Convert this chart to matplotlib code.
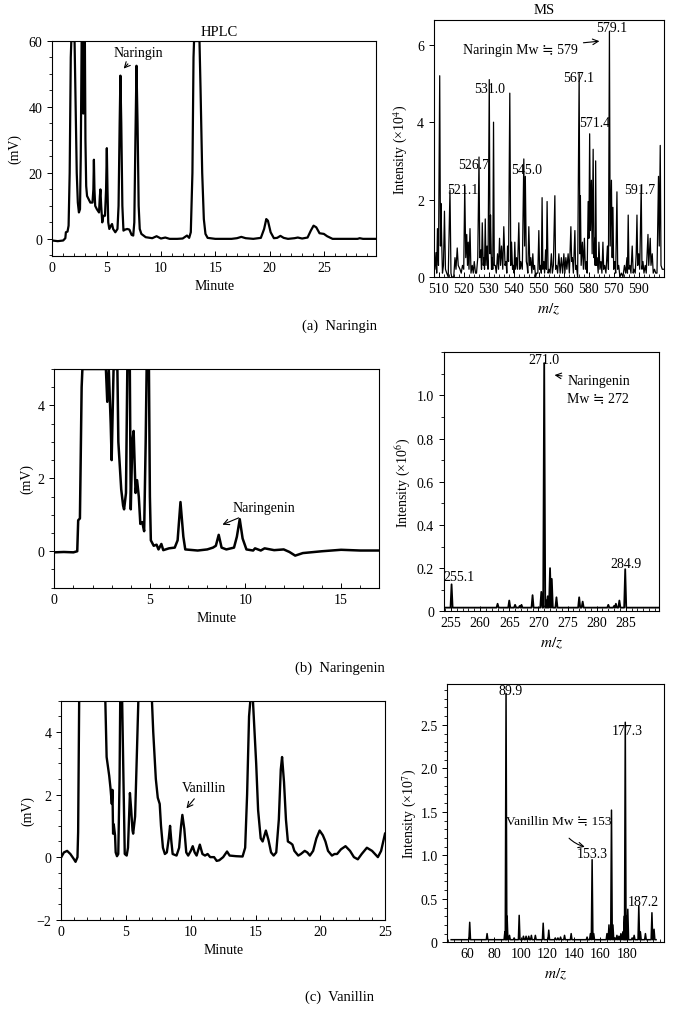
import numpy as np
import matplotlib
matplotlib.use('Agg')
import matplotlib.pyplot as plt
from matplotlib.ticker import MultipleLocator

plt.rcParams['font.family'] = ['Liberation Serif', 'DejaVu Serif', 'DejaVu Sans']
plt.rcParams['mathtext.fontset'] = 'stix'
plt.rcParams['font.size'] = 10

# ---- HPLC traces: (minute, mV) ----
hplc_a_t = [0.0, 0.5, 1.0, 1.2, 1.25, 1.4, 1.5, 1.6, 1.7, 1.75, 2.05, 2.15, 2.25, 2.35, 2.45,
            2.55, 2.62, 2.7, 2.82, 2.85, 2.9, 3.0, 3.05, 3.12, 3.2, 3.35, 3.5, 3.7, 3.78, 3.83,
            3.88, 3.95, 4.1, 4.3, 4.38, 4.43, 4.5, 4.6, 4.7, 4.85, 4.95, 5.02, 5.08, 5.15, 5.25,
            5.4, 5.5, 5.6, 5.8, 6.0, 6.1, 6.2, 6.27, 6.35, 6.45, 6.55, 6.7, 6.9, 7.1, 7.3,
            7.45, 7.55, 7.65, 7.75, 7.85, 7.95, 8.05, 8.2, 8.6, 9.2, 9.6, 10.0, 10.4, 10.8, 11.5,
            12.0, 12.4, 12.6, 12.75, 12.9, 13.0, 13.05, 13.55, 13.65, 13.8, 13.95, 14.1, 14.3, 15.0,
            16.5, 17.0, 17.4, 17.8, 18.5, 19.2, 19.5, 19.7, 19.85, 20.1, 20.4, 20.7, 21.0, 21.3,
            21.7, 22.3, 22.6, 23.0, 23.5, 23.8, 24.05, 24.3, 24.6, 25.0, 25.3, 25.8, 27.0, 28.1,
            28.3, 28.6, 30.0]
hplc_a_mv = [-0.5, -0.7, -0.5, 0.2, 2.0, 2.2, 4, 20, 55, 60, 60, 40, 20, 11, 8,
             9, 25, 60, 60, 38, 60, 60, 30, 16, 13, 12, 11, 11, 15, 24,
             15, 10, 9, 8, 13, 15, 10, 5, 7, 7, 15, 27.5, 15, 5, 3,
             4, 4.5, 3, 2, 3, 10, 35, 49.5, 35, 10, 2.5, 2.8, 3, 2.8, 1.2,
             1, 5, 30, 52.5, 35, 10, 3, 1.5, 0.5, 0.2, 0.8, 0.1, 0.4, 0, 0,
             0.1, 1.0, 0.3, 2, 20, 55, 60, 60, 45, 20, 6, 1.5, 0.3, 0,
             0, 0.2, 0.6, 0.2, 0, 0.3, 3, 6, 5.5, 2, 0.2, 0.3, 0.9, 0.3,
             0, 0.2, 0.4, 0.1, 0.4, 2.5, 4, 3.5, 1.7, 1.5, 0.8, 0, 0, 0,
             0.2, 0, 0]

hplc_b_t = [0.0, 0.5, 1.0, 1.2, 1.25, 1.34, 1.38, 1.43, 1.47, 2.7, 2.77, 2.85, 2.95, 3.0,
            3.1, 3.3, 3.35, 3.5, 3.6, 3.65, 3.75, 3.82, 3.95, 4.0, 4.08, 4.15, 4.25, 4.33,
            4.42, 4.5, 4.6, 4.7, 4.78, 4.83, 4.95, 5.0, 5.05, 5.2, 5.35, 5.45, 5.6, 5.7,
            6.0, 6.3, 6.45, 6.6, 6.75, 6.85, 7.5, 8.0, 8.3, 8.45, 8.6, 8.75, 9.0, 9.4,
            9.55, 9.7, 9.85, 10.05, 10.4, 10.5, 10.8, 11.0, 11.5, 12.0, 12.3, 12.6, 13.0, 14.0,
            15.0, 16.0, 17.0]
hplc_b_mv = [-0.03, -0.02, -0.03, 0.0, 0.85, 0.9, 2.5, 4.5, 5, 5, 4.1, 5, 3.5, 2.5,
             5, 5, 3.0, 1.7, 1.25, 1.15, 1.6, 5, 5, 1.15, 3.0, 3.3, 1.6, 1.95,
             1.5, 0.75, 0.8, 0.55, 3, 5, 5, 1.5, 0.3, 0.15, 0.18, 0.05, 0.2, 0.03,
             0.08, 0.1, 0.3, 1.35, 0.4, 0.05, 0.02, 0.05, 0.1, 0.15, 0.45, 0.1, 0.05, 0.1,
             0.4, 0.88, 0.35, 0.05, 0.02, 0.08, 0.02, 0.08, 0.03, 0.05, -0.02, -0.12, -0.05, 0.0,
             0.04, 0.02, 0.02]

hplc_c_t = [0.0, 0.2, 0.45, 0.7, 0.95, 1.1, 1.25, 1.3, 1.38, 3.4, 3.5, 3.7, 3.8, 3.9,
            3.95, 4.0, 4.05, 4.15, 4.2, 4.3, 4.4, 4.5, 4.55, 4.7, 4.8, 4.9, 5.05, 5.15,
            5.3, 5.4, 5.5, 5.55, 5.7, 5.85, 5.95, 7.0, 7.1, 7.3, 7.45, 7.6, 7.7, 7.85,
            8.0, 8.15, 8.3, 8.4, 8.5, 8.6, 8.9, 9.1, 9.25, 9.35, 9.5, 9.65, 9.8, 10.0,
            10.15, 10.3, 10.45, 10.7, 10.9, 11.1, 11.3, 11.5, 11.8, 12.0, 12.2, 12.5, 12.8,
            13.0, 13.5, 14.0, 14.2, 14.35, 14.5, 14.6, 14.8, 14.9, 15.05, 15.2, 15.4, 15.55,
            15.8, 16.0, 16.2, 16.4, 16.6, 16.8, 16.95, 17.05, 17.2, 17.35, 17.5, 17.7, 17.85,
            18.0, 18.3, 18.5, 18.8, 19.0, 19.2, 19.45, 19.7, 19.95, 20.2, 20.4, 20.6, 20.9,
            21.1, 21.3, 21.6, 21.95, 22.3, 22.6, 22.9, 23.2, 23.6, 24.0, 24.45, 24.7, 25.0]
hplc_c_mv = [0.0, 0.15, 0.2, 0.1, -0.05, -0.15, 0.0, 0.8, 5, 5, 3.2, 2.6, 2.2, 1.7,
             2.15, 0.75, 1.05, 0.7, 0.15, 0.03, 0.1, 2.5, 5, 5, 2.5, 0.1, 0.05, 0.3,
             2.05, 1.5, 0.85, 0.75, 1.3, 3.5, 5, 5, 4, 2.5, 1.9, 1.7, 1.0, 0.3,
             0.1, 0.15, 0.6, 1.0, 0.5, 0.1, 0.05, 0.3, 1.0, 1.35, 0.9, 0.15, 0.05, 0.2,
             0.35, 0.15, 0.05, 0.4, 0.1, 0.05, 0.1, 0.0, 0.0, -0.12, -0.1, 0.0, 0.18,
             0.05, 0.03, 0.02, 0.3, 2, 4.5, 5, 5, 4.2, 3.0, 1.5, 0.6, 0.5,
             0.85, 0.55, 0.15, 0.05, 0.15, 1.2, 2.8, 3.2, 2.4, 1.2, 0.5, 0.45, 0.4,
             0.2, 0.05, 0.1, 0.2, 0.15, 0.05, 0.2, 0.6, 0.85, 0.7, 0.5, 0.2, 0.05,
             0.1, 0.1, 0.25, 0.35, 0.2, 0.0, -0.07, 0.1, 0.3, 0.2, 0.0, 0.2, 0.75]

# ---- MS (a): dense trace, (m/z, intensity x1e4) ----
ms_a_mz = [508.0, 508.5, 508.9, 509.2, 509.5, 509.9, 510.4, 510.7, 510.9, 511.2, 511.5, 511.9,
           512.3, 512.7, 513.2, 513.8, 514.5, 514.9, 515.2, 516.0, 516.5, 516.9, 517.4, 517.8,
           518.5, 519.0, 519.5, 520.0, 520.4, 520.8, 521.2, 521.5, 521.8, 522.1, 522.5, 522.9,
           523.4, 523.8, 524.2, 524.7, 525.1, 525.6, 526.1, 526.4, 526.8, 527.1, 527.4, 527.8,
           528.1, 528.3, 528.6, 528.9, 529.3, 529.7, 530.2, 530.5, 530.7, 531.1, 531.4, 531.6,
           531.9, 532.2, 532.6, 533.0, 533.5, 533.9, 534.3, 534.7, 535.1, 535.6, 536.0, 536.5,
           536.9, 537.2, 537.5, 537.9, 538.4, 538.8, 539.1, 539.5, 539.8, 540.1, 540.4, 540.7,
           541.1, 541.5, 542.0, 542.4, 542.8, 543.4, 544.0, 544.3, 544.6, 545.0, 545.3, 545.6,
           546.0, 546.4, 546.8, 547.2, 547.6, 547.9, 548.3, 548.7, 549.1, 549.6, 550.0, 550.3,
           550.6, 551.0, 551.3, 551.6, 552.0, 552.3, 552.7, 553.0, 553.3, 553.7, 554.1, 554.5,
           555.0, 555.4, 555.8, 556.4, 556.7, 557.1, 557.5, 558.0, 558.5, 559.0, 559.5, 560.0,
           560.4, 560.8, 561.2, 561.7, 562.2, 562.8, 563.1, 563.4, 563.8, 564.4, 564.7, 565.0,
           565.5, 566.1, 566.4, 566.6, 566.9, 567.4, 567.8, 568.2, 568.6, 569.0, 569.3, 569.7,
           570.0, 570.3, 570.6, 571.0, 571.3, 571.7, 572.0, 572.3, 572.5, 572.7, 573.0, 573.3,
           573.7, 574.0, 574.4, 574.8, 575.2, 575.6, 575.9, 576.3, 576.8, 577.4, 577.8, 578.2,
           578.5, 579.0, 579.3, 579.6, 579.9, 580.3, 580.7, 581.2, 581.5, 581.9, 582.4, 583.0,
           583.6, 584.2, 584.7, 585.2, 585.4, 585.7, 586.0, 586.4, 586.8, 587.3, 587.7, 588.0,
           588.5, 588.9, 589.2, 589.5, 589.9, 590.3, 590.9, 591.2, 591.6, 592.0, 592.5, 592.9,
           593.6, 593.9, 594.5, 594.8, 595.3, 595.7, 596.2, 596.7, 597.2, 597.8, 598.1, 598.5,
           598.8, 599.3, 599.8]
ms_a_int = [0.7, 0.2, 0.63, 0.1, 1.25, 0.3, 5.2, 0.8, 1.9, 0.9, 0.1, 0.3,
            1.7, 0.2, 0.1, 0.0, 2.25, 0.1, 0.0, 0.0, 0.5, 0.2, 0.75, 0.3,
            0.2, 0.1, 0.3, 0.2, 2.35, 0.5, 1.1, 0.3, 0.9, 0.2, 1.25, 0.1,
            0.3, 0.1, 0.4, 0.1, 0.1, 0.5, 3.1, 0.5, 0.7, 0.2, 1.4, 0.3,
            0.5, 0.2, 1.5, 0.3, 0.8, 0.2, 5.1, 0.6, 1.6, 0.2, 0.5, 0.2,
            4.0, 0.3, 0.3, 0.1, 0.6, 0.2, 1.0, 0.3, 0.8, 0.2, 1.3, 0.3,
            0.4, 0.1, 0.8, 0.4, 4.75, 0.3, 0.9, 0.2, 0.3, 0.1, 0.9, 0.2,
            0.5, 0.2, 1.4, 0.2, 0.4, 0.2, 3.05, 0.8, 2.6, 0.4, 0.3, 0.1,
            1.3, 0.3, 0.5, 0.1, 0.6, 0.2, 0.3, 0.0, 0.1, 0.1, 1.2, 0.2,
            0.3, 0.1, 2.05, 0.2, 0.4, 0.1, 0.7, 0.2, 1.95, 0.1, 0.2, 0.1,
            0.6, 0.1, 0.3, 2.1, 0.2, 0.3, 0.1, 0.6, 0.1, 0.5, 0.1, 0.6,
            0.1, 0.5, 0.2, 0.6, 0.1, 1.3, 0.4, 0.5, 0.1, 1.2, 0.2, 0.3,
            0.0, 5.25, 0.6, 2.1, 0.3, 0.9, 0.2, 1.0, 0.2, 0.4, 0.1, 1.95,
            1.0, 3.7, 1.2, 2.5, 0.6, 3.3, 0.5, 1.0, 0.3, 3.0, 0.3, 0.5,
            0.1, 0.9, 0.2, 0.4, 0.1, 0.9, 0.2, 0.3, 0.1, 0.8, 0.2, 6.35,
            0.8, 2.5, 0.5, 1.8, 0.2, 0.4, 0.1, 2.2, 0.2, 0.3, 0.0, 0.1,
            0.0, 0.3, 0.1, 0.5, 0.1, 1.6, 0.2, 0.3, 0.1, 0.8, 0.1, 0.2,
            0.1, 0.6, 1.6, 0.3, 0.6, 0.2, 2.35, 0.2, 0.4, 0.1, 0.3, 0.1,
            1.1, 0.3, 1.0, 0.3, 0.6, 0.1, 0.2, 0.1, 0.1, 2.6, 0.8, 3.4,
            0.3, 0.2, 0.2]

# ---- MS (b): peak list, (m/z, intensity x1e6) ----
ms_b_base = 0.017
ms_b_mz = [255.1, 263.0, 265.0, 266.0, 266.8, 267.1, 269.0, 270.5, 271.0, 271.4, 271.6,
           272.0, 272.3, 273.1, 277.0, 277.6, 282.0, 283.0, 283.3, 283.9, 284.9]
ms_b_int = [0.125, 0.035, 0.05, 0.03, 0.025, 0.03, 0.075, 0.09, 1.15, 0.05, 0.07,
            0.2, 0.15, 0.065, 0.065, 0.045, 0.03, 0.025, 0.035, 0.05, 0.195]

# ---- MS (c): peak list, (m/z, intensity x1e7) ----
ms_c_base = 0.03
ms_c_mz = [61.5, 74.6, 88.0, 88.9, 89.7, 91.5, 95.0, 98.8, 102.0, 104.0, 106.0, 108.0,
           111.0, 116.9, 121.1, 126.0, 128.0, 130.0, 133.0, 138.0, 150.0, 152.5, 153.8,
           155.0, 165.0, 166.5, 168.4, 169.5, 171.0, 172.5, 174.0, 175.5, 177.0, 178.0,
           178.8, 179.8, 180.7, 184.0, 185.5, 189.0, 190.2, 194.0, 198.9, 200.5]
ms_c_int = [0.23, 0.1, 0.12, 2.86, 0.3, 0.08, 0.05, 0.31, 0.07, 0.07, 0.07, 0.08,
            0.08, 0.22, 0.14, 0.05, 0.05, 0.06, 0.08, 0.1, 0.06, 0.1, 0.95,
            0.1, 0.1, 0.2, 1.52, 0.2, 0.05, 0.08, 0.07, 0.1, 0.12, 0.3,
            2.53, 0.3, 0.38, 0.05, 0.08, 0.42, 0.12, 0.1, 0.34, 0.15]

W, H = 679, 1012


def rect(x0, y0, x1, y1):
    return [x0 / W, 1 - y1 / H, (x1 - x0) / W, (y1 - y0) / H]


def style(ax):
    ax.tick_params(axis='x', which='both', direction='in')
    ax.tick_params(axis='y', which='both', direction='out')
    ax.tick_params(which='major', length=3.5, width=0.7, labelsize=10)
    ax.tick_params(which='minor', length=2, width=0.6)
    for s in ax.spines.values():
        s.set_linewidth(0.8)


def profile(mz, inten, base, lo, hi, w):
    # build a stick profile from the peak list
    xs, ys = [lo], [base]
    for m, h in zip(mz, inten):
        xs += [m - w, m, m + w]
        ys += [base, h, base]
    xs.append(hi)
    ys.append(base)
    return xs, ys


fig = plt.figure(figsize=(W / 100, H / 100), dpi=100)
arrow = dict(arrowstyle='->', lw=0.8, color='black')

# ---------------- (a) ----------------
ax = fig.add_axes(rect(52.3, 42, 376, 257))
ax.plot(hplc_a_t, hplc_a_mv, color='black', lw=1.6)
ax.set_xlim(0, 29.8)
ax.set_ylim(-5.2, 60)
ax.set_xticks([0, 5, 10, 15, 20, 25])
ax.set_yticks([0, 20, 40, 60])
ax.xaxis.set_minor_locator(MultipleLocator(1))
ax.yaxis.set_minor_locator(MultipleLocator(5))
ax.set_xlabel('Minute', labelpad=4)
ax.set_ylabel('(mV)', labelpad=5)
ax.annotate('Naringin', xy=(6.4, 51), xytext=(7.9, 56.5), ha='center', va='center',
            arrowprops=arrow)
style(ax)

ax = fig.add_axes(rect(433.7, 21, 664, 278))
ax.plot(ms_a_mz, ms_a_int, color='black', lw=0.9)
ax.set_xlim(508, 600)
ax.set_ylim(0, 6.64)
ax.set_xticks([510, 520, 530, 540, 550, 560, 570, 580, 590])
ax.set_xticklabels(['510', '520', '530', '540', '550', '560', '580', '570', '590'])
ax.set_yticks([0, 2, 4, 6])
ax.xaxis.set_minor_locator(MultipleLocator(2))
ax.set_xlabel('$m/z$', fontsize=11, labelpad=4)
ax.set_ylabel('Intensity (×10$^{4}$)', labelpad=5)
for txt, x, y in [('579.1', 579.0, 6.45), ('567.1', 566.0, 5.15), ('531.0', 530.2, 4.87),
                  ('571.4', 572.3, 4.0), ('526.7', 523.8, 2.9), ('545.0', 545.1, 2.78),
                  ('521.1', 519.8, 2.27), ('591.7', 590.3, 2.25)]:
    ax.text(x, y, txt, ha='center', va='center')
ax.annotate('Naringin Mw ≒ 579', xy=(575.3, 6.1), xytext=(565.6, 5.89),
            ha='right', va='center', arrowprops=arrow)
style(ax)

fig.text(0.3225, 1 - 32 / H, 'HPLC', ha='center', va='center', fontsize=10.5)
fig.text(544 / W, 1 - 10 / H, 'MS', ha='center', va='center', fontsize=10.5)
fig.text(0.5, 1 - 326 / H, '(a)  Naringin', ha='center', va='center', fontsize=10.5)

# ---------------- (b) ----------------
ax = fig.add_axes(rect(54.3, 370, 379.3, 588.7))
ax.plot(hplc_b_t, hplc_b_mv, color='black', lw=1.8)
ax.set_xlim(0, 17)
ax.set_ylim(-1, 5)
ax.set_xticks([0, 5, 10, 15])
ax.set_yticks([0, 2, 4])
ax.xaxis.set_minor_locator(MultipleLocator(1))
ax.yaxis.set_minor_locator(MultipleLocator(0.5))
ax.set_xlabel('Minute', labelpad=4)
ax.set_ylabel('(mV)', labelpad=3)
ax.annotate('Naringenin', xy=(8.66, 0.7), xytext=(9.3, 1.2), ha='left', va='center',
            arrowprops=arrow)
style(ax)

ax = fig.add_axes(rect(443.7, 353.3, 659, 612.3))
xs, ys = profile(ms_b_mz, ms_b_int, ms_b_base, 253.75, 290.7, 0.18)
ax.plot(xs, ys, color='black', lw=1.3)
ax.set_xlim(253.75, 290.7)
ax.set_ylim(0, 1.2)
ax.set_xticks([255, 260, 265, 270, 275, 280, 285])
ax.set_yticks([0, 0.2, 0.4, 0.6, 0.8, 1.0])
ax.set_yticklabels(['0', '0.2', '0.4', '0.6', '0.8', '1.0'])
ax.xaxis.set_minor_locator(MultipleLocator(1))
ax.yaxis.set_minor_locator(MultipleLocator(0.1))
ax.set_xlabel('$m/z$', fontsize=11, labelpad=4)
ax.set_ylabel('Intensity (×10$^{6}$)', labelpad=3)
ax.text(271.0, 1.167, '271.0', ha='center', va='center')
ax.text(256.4, 0.162, '255.1', ha='center', va='center')
ax.text(285.0, 0.22, '284.9', ha='center', va='center')
ax.annotate('Naringenin', xy=(272.3, 1.096), xytext=(275.0, 1.07), ha='left', va='center',
            arrowprops=arrow)
ax.text(280.2, 0.99, 'Mw ≒ 272', ha='center', va='center')
style(ax)

fig.text(0.5, 1 - 668 / H, '(b)  Naringenin', ha='center', va='center', fontsize=10.5)

# ---------------- (c) ----------------
ax = fig.add_axes(rect(61.3, 701.7, 385, 920.7))
ax.plot(hplc_c_t, hplc_c_mv, color='black', lw=1.7)
ax.set_xlim(0, 25)
ax.set_ylim(-2, 5)
ax.set_xticks([0, 5, 10, 15, 20, 25])
ax.set_yticks([-2, 0, 2, 4])
ax.set_yticklabels(['−2', '0', '2', '4'])
ax.xaxis.set_minor_locator(MultipleLocator(1))
ax.yaxis.set_minor_locator(MultipleLocator(0.5))
ax.set_xlabel('Minute', labelpad=4)
ax.set_ylabel('(mV)', labelpad=2)
ax.annotate('Vanillin', xy=(9.53, 1.49), xytext=(11.0, 2.23), ha='center', va='center',
            arrowprops=arrow)
style(ax)

ax = fig.add_axes(rect(447.3, 685, 664, 943.3))
xs, ys = profile(ms_c_mz, ms_c_int, ms_c_base, 47.5, 202.0, 0.6)
ax.plot(xs, ys, color='black', lw=1.1)
ax.set_xlim(44.6, 208)
ax.set_ylim(0, 2.97)
ax.set_xticks([60, 80, 100, 120, 140, 160, 180])
ax.set_yticks([0, 0.5, 1.0, 1.5, 2.0, 2.5])
ax.set_yticklabels(['0', '0.5', '1.0', '1.5', '2.0', '2.5'])
ax.xaxis.set_minor_locator(MultipleLocator(5))
ax.yaxis.set_minor_locator(MultipleLocator(0.1))
ax.set_xlabel('$m/z$', fontsize=11, labelpad=4)
ax.set_ylabel('Intensity (×10$^{7}$)', labelpad=1)
ax.text(92.4, 2.9, '89.9', ha='center', va='center')
ax.text(180.5, 2.43, '177.3', ha='center', va='center')
ax.text(153.6, 1.02, '153.3', ha='center', va='center')
ax.text(192.5, 0.47, '187.2', ha='center', va='center')
ax.annotate('Vanillin Mw ≒ 153', xy=(150.3, 1.09), xytext=(128.8, 1.40), ha='center',
            va='center', fontsize=9.6,
            arrowprops=dict(arrowstyle='->', lw=0.8, color='black', shrinkA=8,
                            connectionstyle='arc3,rad=0.3'))
style(ax)

fig.text(0.5, 1 - 997.7 / H, '(c)  Vanillin', ha='center', va='center', fontsize=10.5)

plt.savefig('out.png', dpi=100)
